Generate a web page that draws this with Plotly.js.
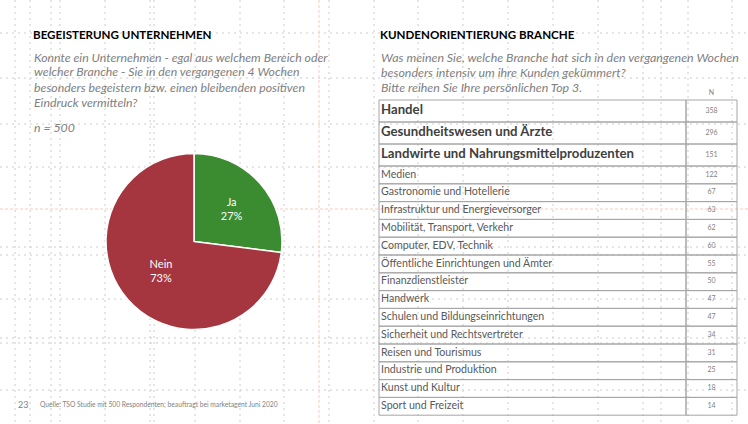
<!DOCTYPE html>
<html><head><meta charset="utf-8">
<script src="https://cdn.plot.ly/plotly-3.0.1.min.js"></script>
<style>html,body{margin:0;padding:0;background:#fff}#chart{width:748px;height:424px}</style>
</head><body><div id="chart"></div>
<script>
// Pie data
const pieLabels = ['Ja', 'Nein'];
const pieValues = [27, 73];
// Table data
const branchen = ['Handel', 'Gesundheitswesen und Ärzte', 'Landwirte und Nahrungsmittelproduzenten', 'Medien',
  'Gastronomie und Hotellerie', 'Infrastruktur und Energieversorger', 'Mobilität, Transport, Verkehr',
  'Computer, EDV, Technik', 'Öffentliche Einrichtungen und Ämter', 'Finanzdienstleister', 'Handwerk',
  'Schulen und Bildungseinrichtungen', 'Sicherheit und Rechtsvertreter', 'Reisen und Tourismus',
  'Industrie und Produktion', 'Kunst und Kultur', 'Sport und Freizeit'];
const nWerte = [358, 296, 151, 122, 67, 63, 62, 60, 55, 50, 47, 47, 34, 31, 25, 18, 14];
const nHeader = 'N';

const W = 748, H = 424;
const px = x => x / W, py = y => 1 - y / H;
const FONT = 'Lato, "Open Sans", sans-serif';
const topN = 3;

// table geometry (pixel layout)
const tblLeft = 379, tblDiv = 686, tblRight = 737, tblTop = 100;
const bigRowH = 22, rowH = 17.8;
const rowTops = [], rowMids = [];
let yCur = tblTop;
branchen.forEach((b, i) => {
  const h = i < topN ? bigRowH : rowH;
  rowTops.push(yCur); rowMids.push(yCur + h / 2); yCur += h;
});
const tblBottom = yCur;

const shapes = [];
// light dotted slide guides (PowerPoint grid)
const guideV = [15, 30, 51, 60, 105, 150, 154, 195, 240, 284, 329, 374, 418, 463, 508, 553, 598, 643, 661, 688, 732];
const guideH = [33, 78, 124, 167, 247, 255, 299, 338, 343, 390];
const gLine = {color: '#cccccc', width: 1, dash: '2px,4px'};
const rLine = {color: '#f7cbbd', width: 1, dash: '3px,2px'};
guideV.forEach(x => shapes.push({type: 'line', xref: 'x', yref: 'y', x0: x, x1: x, y0: 0, y1: H, layer: 'below', line: gLine}));
guideH.forEach(y => shapes.push({type: 'line', xref: 'x', yref: 'y', x0: 0, x1: W, y0: y, y1: y, layer: 'below', line: gLine}));
shapes.push({type: 'line', xref: 'x', yref: 'y', x0: 319, x1: 319, y0: 0, y1: H, layer: 'below', line: rLine});
shapes.push({type: 'line', xref: 'x', yref: 'y', x0: 0, x1: W, y0: 209, y1: 209, layer: 'below', line: rLine});
// table cells (no fill, guides show through)
branchen.forEach((b, i) => {
  const y0 = rowTops[i], y1 = i + 1 < rowTops.length ? rowTops[i + 1] : tblBottom;
  shapes.push({type: 'rect', xref: 'x', yref: 'y', x0: tblLeft, x1: tblDiv, y0: y0, y1: y1, layer: 'below', line: {color: '#a6a6a6', width: 1}});
  shapes.push({type: 'rect', xref: 'x', yref: 'y', x0: tblDiv, x1: tblRight, y0: y0, y1: y1, layer: 'below', line: {color: '#a6a6a6', width: 1}});
});

const traces = [
  {
    type: 'pie', labels: pieLabels, values: pieValues, sort: false, direction: 'clockwise', rotation: 0,
    marker: {colors: ['#3b8c31', '#a5353e'], line: {color: '#ffffff', width: 1.5}},
    textinfo: 'label+percent', textposition: 'inside', insidetextorientation: 'horizontal',
    textfont: {family: FONT, size: 11, color: '#ffffff'},
    domain: {x: [px(106), px(282)], y: [py(330), py(153)]},
    hoverinfo: 'none', showlegend: false
  },
  { // big rows labels
    type: 'scatter', mode: 'text', x: branchen.slice(0, topN).map(() => tblLeft + 2), y: rowMids.slice(0, topN),
    text: branchen.slice(0, topN).map(s => '<b>' + s + '</b>'), textposition: 'middle right',
    textfont: {family: FONT, size: 13.2, color: '#404040'}, hoverinfo: 'none', showlegend: false
  },
  { // normal rows labels
    type: 'scatter', mode: 'text', x: branchen.slice(topN).map(() => tblLeft + 2), y: rowMids.slice(topN),
    text: branchen.slice(topN), textposition: 'middle right',
    textfont: {family: FONT, size: 10.6, color: '#595959'}, hoverinfo: 'none', showlegend: false
  },
  { // N values
    type: 'scatter', mode: 'text', x: nWerte.map(() => (tblDiv + tblRight) / 2), y: rowMids,
    text: nWerte.map(String), textposition: 'middle center',
    textfont: {family: FONT, size: 7, color: '#7f7f7f'}, hoverinfo: 'none', showlegend: false
  },
  { // header
    type: 'scatter', mode: 'text', x: [(tblDiv + tblRight) / 2], y: [93], text: [nHeader], textposition: 'middle center',
    textfont: {family: FONT, size: 7, color: '#7f7f7f'}, hoverinfo: 'none', showlegend: false
  }
];

const ann = (x, y, text, opts) => Object.assign({xref: 'paper', yref: 'paper', x: px(x), y: py(y), xanchor: 'left', yanchor: 'middle', showarrow: false, text: text, align: 'left'}, opts || {});
const titleFont = {family: FONT, size: 11.6, color: '#000000'};
const subFont = {family: FONT, size: 12.3, color: '#808080'};
const subFontR = {family: FONT, size: 12.4, color: '#808080'};
const annotations = [
  ann(31, 34, '<b>BEGEISTERUNG UNTERNEHMEN</b>', {font: titleFont}),
  ann(32, 57, '<i>Konnte ein Unternehmen - egal aus welchem Bereich oder</i>', {font: subFont}),
  ann(32, 72, '<i>welcher Branche - Sie in den vergangenen 4 Wochen</i>', {font: subFont}),
  ann(32, 87, '<i>besonders begeistern bzw. einen bleibenden positiven</i>', {font: subFont}),
  ann(32, 102, '<i>Eindruck vermitteln?</i>', {font: subFont}),
  ann(32, 127, '<i>n = 500</i>', {font: subFont}),
  ann(378, 34, '<b>KUNDENORIENTIERUNG BRANCHE</b>', {font: titleFont}),
  ann(379, 57.5, '<i>Was meinen Sie, welche Branche hat sich in den vergangenen Wochen</i>', {font: subFontR}),
  ann(379, 72.5, '<i>besonders intensiv um ihre Kunden gekümmert?</i>', {font: subFontR}),
  ann(379, 87.5, '<i>Bitte reihen Sie Ihre persönlichen Top 3.</i>', {font: subFontR}),
  ann(16, 404, '23', {font: {family: FONT, size: 9, color: '#7f7f7f'}}),
  ann(38, 404, 'Quelle: TSO Studie mit 500 Respondenten; beauftragt bei marketagent Juni 2020', {font: {family: FONT, size: 6.7, color: '#7f7f7f'}})
];

const layout = {
  width: W, height: H, margin: {l: 0, r: 0, t: 0, b: 0},
  paper_bgcolor: '#ffffff', plot_bgcolor: 'rgba(0,0,0,0)', showlegend: false,
  xaxis: {range: [0, W], visible: false, fixedrange: true},
  yaxis: {range: [H, 0], visible: false, fixedrange: true},
  shapes: shapes, annotations: annotations
};
Plotly.newPlot('chart', traces, layout, {displayModeBar: false, staticPlot: true});
</script></body></html>
